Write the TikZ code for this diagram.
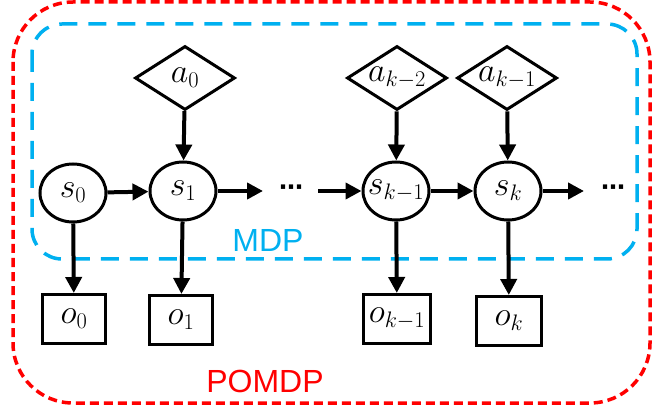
\RequirePackage{fix-cm}
\documentclass[tikz,border=0pt]{standalone}
\usepackage{fontspec}
\setsansfont{Liberation Sans}
\newfontfamily\dotsfont{DejaVu Sans}
\renewcommand{\defaultscriptratio}{.66}
\usetikzlibrary{shapes.geometric,arrows.meta}
\definecolor{mdpblue}{RGB}{0,176,240}
\definecolor{pomdpred}{RGB}{255,0,0}
\begin{document}
\begin{tikzpicture}[x=1pt,y=-1pt,
  mathfont/.style={font=\fontsize{34}{36}\selectfont},
  statenode/.style={ellipse,draw,line width=3pt,minimum width=66pt,minimum height=58pt,inner sep=0pt,mathfont},
  actnode/.style={diamond,draw,line width=3pt,aspect=1.5625,minimum width=100pt,minimum height=64pt,inner sep=0pt,mathfont},
  obsnode/.style={rectangle,draw,line width=3pt,minimum width=63pt,minimum height=49pt,inner sep=0pt,mathfont},
  arr/.style={line width=4pt,-{Triangle[length=16pt,width=16pt]}},
  dotsnode/.style={inner sep=0pt,font=\dotsfont\bfseries\fontsize{24}{26}\selectfont},
  redframe/.style={draw=pomdpred,line width=3.5pt,dash pattern=on 9pt off 5pt,rounded corners=60pt},
  blueframe/.style={draw=mdpblue,line width=3.5pt,dash pattern=on 18pt off 11pt,rounded corners=30pt},
  framelabel/.style={font=\sffamily\fontsize{32}{34}\selectfont,inner sep=0pt}
]
\useasboundingbox (0,0) rectangle (652,411);

% frames
\draw[redframe] (13,2) rectangle (650,403);
\draw[blueframe] (32,24) rectangle (637,259);
\node[framelabel,text=mdpblue] (mdp) at (268,240) {MDP};
\node[framelabel,text=pomdpred] (pomdp) at (265,381) {POMDP};

% actions
\node[actnode] (a0) at (185,78) {\makebox[0pt]{$a_0$}};
\node[actnode] (ak2) at (397,78) {\makebox[0pt]{$a_{k-2}$}};
\node[actnode] (ak1) at (507,78) {\makebox[0pt]{$a_{k-1}$}};

% states
\node[statenode] (s0) at (73,193) {\makebox[0pt]{$s_0$}};
\node[statenode] (s1) at (183,191) {\makebox[0pt]{$s_1$}};
\node[statenode] (sk1) at (396,191) {\makebox[0pt]{$s_{k-1}$}};
\node[statenode] (sk) at (508,191) {\makebox[0pt]{$s_k$}};

% observations
\node[obsnode] (o0) at (74,319) {\makebox[0pt]{$o_0$}};
\node[obsnode] (o1) at (181,320) {\makebox[0pt]{$o_1$}};
\node[obsnode,minimum width=67pt] (ok1) at (397,319) {\makebox[0pt]{$o_{k-1}$}};
\node[obsnode,minimum width=65pt] (ok) at (509,321) {\makebox[0pt]{$o_k$}};

% dots
\node[dotsnode] (dots1) at (291,190) {⋯};
\node[dotsnode] (dots2) at (613,190) {⋯};
\coordinate (h1) at (263,191);
\coordinate (h2) at (318,191);
\coordinate (h3) at (584,191);

% arrows
\draw[arr] (s0) -- (s1);
\draw[arr] (s1) -- (h1);
\draw[arr] (h2) -- (sk1);
\draw[arr] (sk1) -- (sk);
\draw[arr] (sk) -- (h3);
\draw[arr] (a0) -- (s1);
\draw[arr] (ak2) -- (sk1);
\draw[arr] (ak1) -- (sk);
\draw[arr] (s0) -- (o0);
\draw[arr] (s1) -- (o1);
\draw[arr] (sk1) -- (ok1);
\draw[arr] (sk) -- (ok);
\end{tikzpicture}
\end{document}
